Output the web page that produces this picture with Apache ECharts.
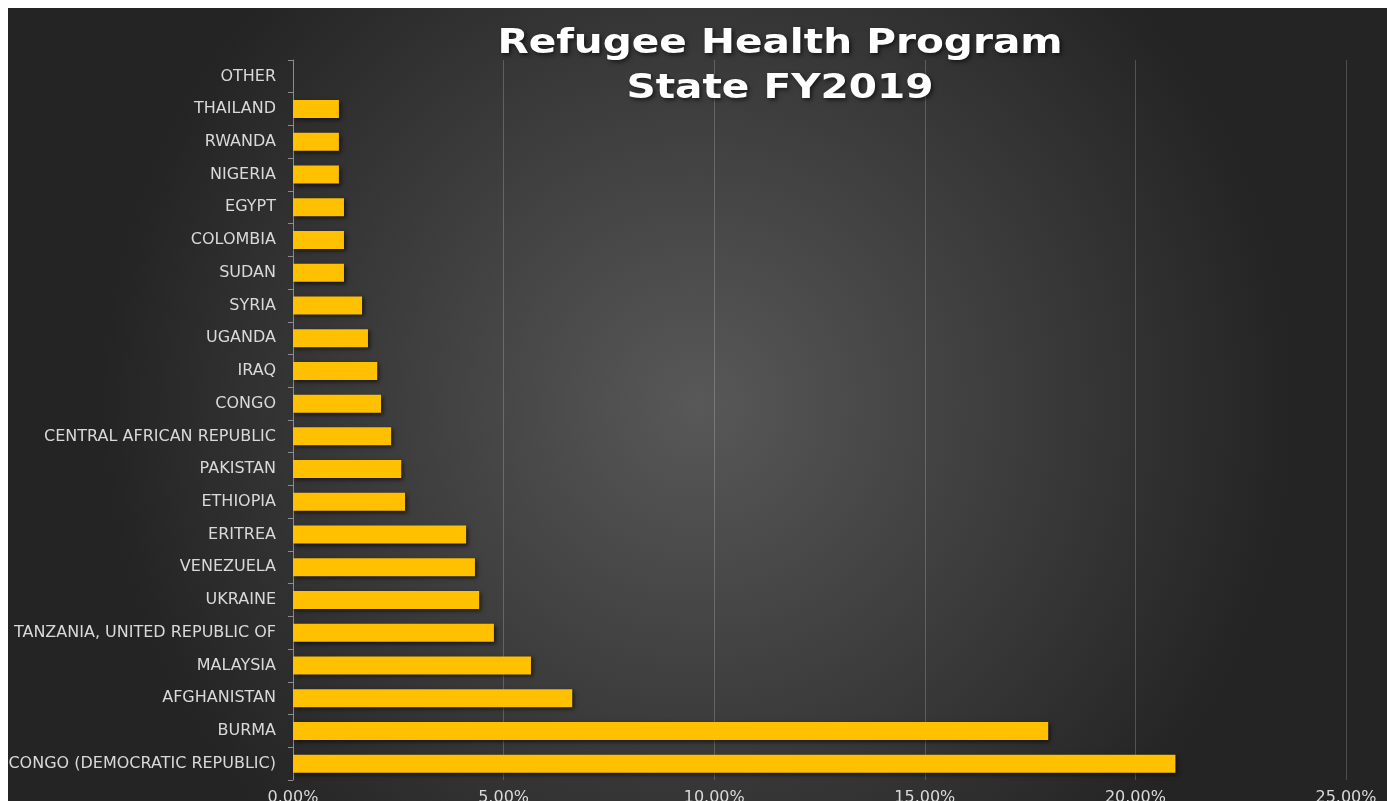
<!DOCTYPE html>
<html>
<head>
<meta charset="utf-8">
<script src="https://cdn.jsdelivr.net/npm/echarts@6/dist/echarts.min.js"></script>
<style>
html,body{margin:0;padding:0;background:#fff;width:1387px;height:801px;overflow:hidden;}
#chart{position:absolute;left:8px;top:8px;width:1379px;height:793px;}
</style>
</head>
<body>
<div id="chart"></div>
<script>
const categories = [
  "CONGO (DEMOCRATIC REPUBLIC)", "BURMA", "AFGHANISTAN", "MALAYSIA",
  "TANZANIA, UNITED REPUBLIC OF", "UKRAINE", "VENEZUELA", "ERITREA",
  "ETHIOPIA", "PAKISTAN", "CENTRAL AFRICAN REPUBLIC", "CONGO", "IRAQ",
  "UGANDA", "SYRIA", "SUDAN", "COLOMBIA", "EGYPT", "NIGERIA", "RWANDA",
  "THAILAND", "OTHER"
];
const shares = [
  20.95, 17.93, 6.63, 5.65, 4.77, 4.42, 4.32, 4.11,
  2.66, 2.57, 2.33, 2.09, 2.00, 1.78, 1.64, 1.21, 1.21, 1.21,
  1.09, 1.09, 1.09, 0
];
const titleLines = ["Refugee Health Program", "State FY2019"];

const chart = echarts.init(document.getElementById('chart'));
chart.setOption({
  backgroundColor: {
    type: 'radial', x: 0.5, y: 0.5, r: 0.75,
    colorStops: [
      { offset: 0, color: '#585858' },
      { offset: 1, color: '#242424' }
    ]
  },
  graphic: [{
    type: 'text', x: 772, y: 14, scaleX: 1.23, z: 100,
    style: {
      text: titleLines.join('\n'),
      fill: '#ffffff', fontFamily: 'DejaVu Sans', fontWeight: 'bold',
      fontSize: 33, lineHeight: 45, align: 'center', verticalAlign: 'top',
      textShadowColor: 'rgba(0,0,0,0.6)', textShadowBlur: 4, textShadowOffsetX: 2, textShadowOffsetY: 2
    }
  }],
  grid: { left: 285, right: 41, top: 52, bottom: 21, containLabel: false, outerBoundsMode: 'none' },
  xAxis: {
    type: 'value', min: 0, max: 25, interval: 5,
    axisLine: { show: false },
    axisTick: { show: false },
    splitLine: { show: true, lineStyle: { color: 'rgba(255,255,255,0.2)', width: 1 } },
    axisLabel: {
      color: '#d9d9d9', fontFamily: 'DejaVu Sans', fontSize: 16, margin: 10,
      formatter: v => v.toFixed(2) + '%'
    }
  },
  yAxis: {
    type: 'category', data: categories,
    axisLine: { show: true, lineStyle: { color: '#8c8c8c', width: 1 } },
    axisTick: { show: true, length: 5, lineStyle: { color: '#8c8c8c' } },
    axisLabel: { color: '#d9d9d9', fontFamily: 'DejaVu Sans', fontSize: 16, margin: 17 }
  },
  series: [{
    type: 'bar', data: shares, barWidth: 18,
    itemStyle: {
      color: '#FFC000',
      shadowColor: 'rgba(0,0,0,0.6)', shadowBlur: 4, shadowOffsetX: 2, shadowOffsetY: 2
    }
  }]
});
</script>
</body>
</html>
